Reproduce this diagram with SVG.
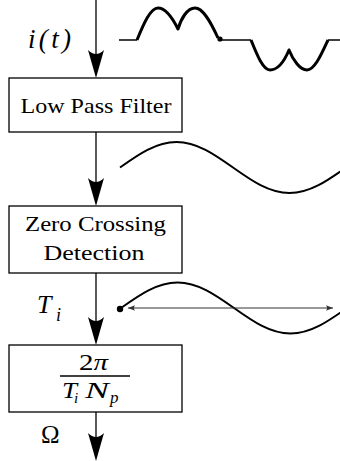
<svg xmlns="http://www.w3.org/2000/svg" xmlns:xlink="http://www.w3.org/1999/xlink" width="340" height="461" viewBox="0 0 340 461">
  <style>
    .box { fill: #ffffff; stroke: #000000; stroke-width: 1.3; }
    .lbl { font-family: "Liberation Serif", "Times New Roman", serif; font-size: 22px; fill: #000000; }
    .math { font-family: "Liberation Serif", "Times New Roman", serif; font-size: 27px; fill: #000000; }
    .it { font-style: italic; }
    .conn { stroke: #000000; stroke-width: 1.3; fill: none; }
    .wave { stroke: #000000; stroke-width: 2; fill: none; stroke-linejoin: round; }
    .thick { stroke: #000000; stroke-width: 3; fill: none; stroke-linejoin: round; }
    .flat { stroke: #000000; stroke-width: 1.5; fill: none; }
    .dim { stroke: #333333; stroke-width: 1; fill: none; }
  </style>
  <defs>
    <path id="ah" d="M0,0 L-8,-28 Q0,-20 8,-28 Z" fill="#000000"/>
    <marker id="sm" viewBox="0 0 10 8" refX="10" refY="4" markerWidth="7" markerHeight="6" orient="auto-start-reverse" markerUnits="userSpaceOnUse">
      <path d="M0,0 L10,4 L0,8 Q3,4 0,0 Z" fill="#333333"/>
    </marker>
  </defs>

  <g id="connectors">
    <line class="conn" x1="96" y1="0" x2="96" y2="60"/>
    <use xlink:href="#ah" transform="translate(96,78)"/>
    <line class="conn" x1="96" y1="132" x2="96" y2="188"/>
    <use xlink:href="#ah" transform="translate(96,206)"/>
    <line class="conn" x1="96" y1="273" x2="96" y2="327"/>
    <use xlink:href="#ah" transform="translate(96,345)"/>
    <line class="conn" x1="96" y1="412" x2="96" y2="443"/>
    <use xlink:href="#ah" transform="translate(96,461)"/>
  </g>

  <g id="label-it">
    <text class="math it" x="28" y="48" textLength="43" lengthAdjust="spacing">i(t)</text>
  </g>
  <g id="label-Ti">
    <text class="math it" x="37" y="313" style="font-size:26px">T</text>
    <text class="math it" x="56" y="321" style="font-size:18px">i</text>
  </g>
  <g id="label-omega">
    <text class="math" x="41" y="443" style="font-size:25px">Ω</text>
  </g>

  <g id="lpf">
    <rect class="box" x="9" y="78" width="173" height="54"/>
    <text class="lbl" x="96" y="112.5" text-anchor="middle" textLength="151" lengthAdjust="spacingAndGlyphs">Low Pass Filter</text>
  </g>

  <g id="zcd">
    <rect class="box" x="9" y="206" width="173" height="67"/>
    <text class="lbl" x="95.5" y="231" text-anchor="middle" textLength="141" lengthAdjust="spacingAndGlyphs">Zero Crossing</text>
    <text class="lbl" x="94" y="260" text-anchor="middle" textLength="101" lengthAdjust="spacingAndGlyphs">Detection</text>
  </g>

  <g id="speed">
    <rect class="box" x="9" y="345" width="173" height="67"/>
    <text class="lbl" x="79" y="370" style="font-size:23px" textLength="29" lengthAdjust="spacingAndGlyphs">2<tspan font-style="italic">π</tspan></text>
    <line x1="60" y1="376" x2="130" y2="376" stroke="#000000" stroke-width="1.3"/>
    <text class="lbl it" x="62" y="398" style="font-size:23px" textLength="15" lengthAdjust="spacingAndGlyphs">T</text>
    <text class="lbl it" x="74" y="403" style="font-size:15px">i</text>
    <text class="lbl it" x="85" y="398" style="font-size:23px" textLength="24" lengthAdjust="spacingAndGlyphs">N</text>
    <text class="lbl it" x="110" y="403" style="font-size:17px">p</text>
  </g>

  <g id="wave-current">
    <path class="flat" d="M119,40 L137,40"/>
    <path class="thick" d="M137,40 C143.8,23.6 150.4,8 158,8 C166,8 173,19 178,29 C181,19 187,8 195,8 C203,8 210.5,21.6 218,38"/>
    <circle cx="220" cy="39" r="2.6" fill="#000000"/>
    <path class="flat" d="M220,40 L251,40"/>
    <path class="thick" d="M251,40 C257.2,55.4 263.1,70 270,70 C277,70 284,62 289,50 C293,60 300,70 307,70 C314.6,70 321.2,54.6 328,40"/>
    <path class="flat" d="M328,40 L340,40"/>
  </g>

  <g id="wave-filtered">
    <path class="wave" d="M120,167.5 C138.43,154.44 156.05,142 176.5,142 C196.95,142 214.57,154.44 233,167.5 C251.43,180.56 269.05,193 289.5,193 C309.95,193 327.57,180.56 346,167.5"/>
  </g>

  <g id="wave-period">
    <path class="wave" d="M121,308 C139.43,294.94 157.05,282.5 177.5,282.5 C197.95,282.5 215.57,294.94 234,308 C252.43,321.06 270.05,333.5 290.5,333.5 C310.95,333.5 328.57,321.06 347,308"/>
    <circle cx="120" cy="309" r="3.2" fill="#000000"/>
    <line class="dim" x1="128" y1="308" x2="333" y2="308" marker-start="url(#sm)" marker-end="url(#sm)"/>
  </g>
</svg>
